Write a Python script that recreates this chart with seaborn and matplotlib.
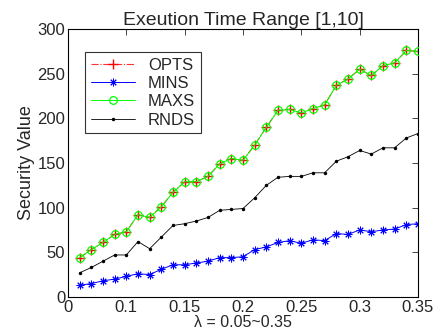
import numpy as np
import pandas as pd
import seaborn as sns
import matplotlib.pyplot as plt
from matplotlib.lines import Line2D

# DADOS
lam = [round(0.06 + 0.01 * i, 2) for i in range(30)]

maxs = [44, 53, 61, 70, 73, 92, 89, 101, 117, 129,
        129, 135, 149, 155, 153, 170, 190, 209, 210, 206,
        211, 215, 237, 244, 255, 248, 259, 262, 276, 275]
opts = list(maxs)
rnds = [27, 33, 40, 47, 47, 62, 54, 67, 80, 82,
        85, 89, 97, 98, 99, 111, 125, 134, 135, 135,
        139, 139, 152, 157, 164, 160, 167, 167, 178, 183]
mins = [13, 15, 18, 20, 23, 26, 25, 31, 36, 36,
        38, 40, 44, 44, 45, 53, 56, 61, 63, 60,
        64, 63, 71, 70, 75, 73, 75, 76, 81, 82]

xticks = [0.05, 0.10, 0.15, 0.20, 0.25, 0.30, 0.35]
xticklabels = ["0", "0.1", "0.15", "0.2", "0.25", "0.3", "0.35"]

df = pd.DataFrame({"lam": lam, "OPTS": opts, "MINS": mins, "MAXS": maxs, "RNDS": rnds})

# ESTILOS (tipo MATLAB)
estilos = {
    "OPTS": dict(color="#ff3333", linestyle="-.", linewidth=0.8, marker="+",
                 markersize=7, markeredgewidth=1.0, markeredgecolor="#ff0000",
                 markerfacecolor="#ff0000", zorder=2),
    "MINS": dict(color="#0000ff", linestyle="-", linewidth=0.7, marker=(8, 2, 0),
                 markersize=5.5, markeredgewidth=0.7, markeredgecolor="#0000ff",
                 markerfacecolor="#0000ff", zorder=2),
    "MAXS": dict(color="#00ff00", linestyle="-", linewidth=0.7, marker="o",
                 markersize=5.5, markeredgewidth=0.9, markeredgecolor="#00ff00",
                 markerfacecolor="none", zorder=3),
    "RNDS": dict(color="black", linestyle="-", linewidth=0.6, marker=".",
                 markersize=5, markeredgewidth=0, markeredgecolor="black",
                 markerfacecolor="black", zorder=2),
}

sns.set_style("white")
plt.rcParams["font.family"] = ["Liberation Sans", "DejaVu Sans"]
plt.rcParams["xtick.direction"] = "in"
plt.rcParams["ytick.direction"] = "in"

fig = plt.figure(figsize=(4.43, 3.34), dpi=100)
ax = fig.add_axes([0.1535, 0.111, 0.79, 0.802])

for nome, kw in estilos.items():
    sns.lineplot(data=df, x="lam", y=nome, ax=ax, legend=False, **kw)

ax.set_xlim(0.05, 0.35)
ax.set_ylim(0, 300)
ax.set_xticks(xticks)
ax.set_xticklabels(xticklabels)
ax.set_yticks(range(0, 301, 50))
ax.tick_params(labelsize=12, length=4, width=0.6, top=True, right=True,
               labeltop=False, labelright=False, pad=2)
for s in ax.spines.values():
    s.set_color("black")
    s.set_linewidth(0.8)

ax.set_title("Exeution Time Range [1,10]", fontsize=14, pad=3)
ax.set_xlabel("λ = 0.05~0.35", fontsize=11.5, labelpad=0)
ax.set_ylabel("Security Value", fontsize=13, labelpad=2)

handles = [Line2D([], [], **{k: v for k, v in kw.items() if k != "zorder"})
           for kw in estilos.values()]
leg = ax.legend(handles, list(estilos.keys()),
                loc="upper left", bbox_to_anchor=(0.05, 0.915), fontsize=12,
                frameon=True, fancybox=False, borderpad=0.35, labelspacing=0.2,
                handlelength=2.6, handletextpad=0.8, borderaxespad=0)
leg.get_frame().set_edgecolor("black")
leg.get_frame().set_linewidth(0.8)

fig.savefig("out.png", dpi=100)
